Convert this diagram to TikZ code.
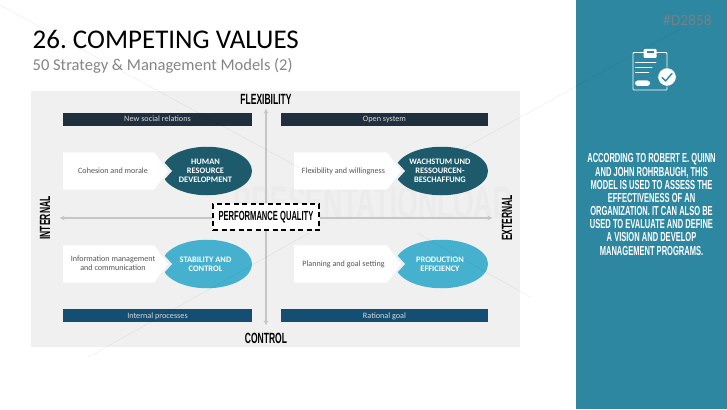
\documentclass[tikz,border=0pt]{standalone}
\usepackage{fontspec}
\setmainfont{Carlito}
\newfontfamily\bebas[FakeStretch=0.575]{Liberation Sans Bold}
\frenchspacing
\definecolor{panelgray}{HTML}{F0F0F0}
\definecolor{sideteal}{HTML}{2E87A0}
\definecolor{darkteal}{HTML}{1D5B6C}
\definecolor{lightteal}{HTML}{45B1CE}
\definecolor{navybar}{HTML}{1F2F3E}
\definecolor{bluebar}{HTML}{154E73}
\definecolor{bodygray}{HTML}{555555}
\definecolor{axisgray}{HTML}{C6C6C6}
\definecolor{codegray}{HTML}{768086}
\tikzset{
  x=1pt,y=-1pt,
  barbox/.style={draw=none,minimum height=13pt,inner sep=0pt,text height=5.6pt,text depth=.4pt,text=white!85!black,font=\fontsize{8.2}{10}\selectfont},
  valueblob/.style={ellipse,inner sep=0pt},
  valuetext/.style={inner sep=0pt,text=white,align=center,font=\bfseries\fontsize{8.4}{9.2}\selectfont},
  petlabel/.style={text=bodygray,align=center,font=\fontsize{8.1}{9.4}\selectfont},
  axislabel/.style={text=black,font=\bebas\fontsize{14.8}{15}\selectfont},
  axisline/.style={draw=axisgray,line width=1.2pt,-{Stealth[length=4.5pt,width=4.5pt]}},
  watermarkline/.style={draw=black,opacity=.07,line width=.5pt},
  iconline/.style={draw=white,line width=.9pt,line cap=round,line join=round},
}
\usetikzlibrary{shapes.geometric,arrows.meta}
\newcommand\cvrow[7]{%
  \node[valueblob,fill=#6,minimum width=#4pt,minimum height=48.5pt] (#1b) at (#3,#5) {};
  \fill[panelgray] (#3-#4/2-9,#5-21) -- (#3-#4/2+10,#5) -- (#3-#4/2-9,#5+21) -- cycle;
  \fill[white] (#2,#5-18.7) -- (#3-#4/2-8,#5-18.7) -- (#3-#4/2+6,#5) -- (#3-#4/2-8,#5+18.7) -- (#2,#5+18.7) -- cycle;
  \node[valuetext] (#1t) at (#3-1.5,#5) {#7};
}
\begin{document}
\begin{tikzpicture}
\useasboundingbox (0,0) rectangle (727,409);
\fill[white] (0,0) rectangle (727,409);
\fill[sideteal] (576,0) rectangle (727,409);
\fill[panelgray] (31,91) rectangle (520,347);
\draw[black!6,line width=3pt,rounded corners=4pt] (215,206) -- (215,188) -- (238,188) -- (238,206);
\node[anchor=center,text=black!8,font=\fontsize{46}{46}\bebas\selectfont] (wm) at (373,203) {PRESENTATIONLOAD};
\node[anchor=west,inner sep=0pt,font=\fontsize{27}{30}\selectfont] (title) at (32.5,39) {26. COMPETING VALUES};
\node[anchor=west,inner sep=0pt,text=black!48,font=\fontsize{16.5}{18}\selectfont] (subtitle) at (32.5,66) {50 Strategy \& Management Models (2)};
% bars
\node[barbox,fill=navybar,minimum width=189pt] (b1) at (157.5,119) {New social relations};
\node[barbox,fill=navybar,minimum width=207pt] (b2) at (384.5,119) {Open system};
\node[barbox,fill=bluebar,minimum width=189pt] (b3) at (157.5,315.5) {Internal processes};
\node[barbox,fill=bluebar,minimum width=207pt] (b4) at (384.5,315.5) {Rational goal};
% centre + axes
\node[draw=black,dash pattern=on 5pt off 3.5pt,line width=1.2pt,fill=white,minimum width=106pt,minimum height=26pt,inner sep=0pt,text=black,font=\bebas\fontsize{13.2}{14}\selectfont] (pq) at (266,217) {PERFORMANCE QUALITY};
\coordinate (axt) at (266,109);
\coordinate (axb) at (266,325);
\coordinate (axl) at (60,218);
\coordinate (axr) at (492,218);
\draw[axisline] (pq.north) -- (axt);
\draw[axisline] (pq.south) -- (axb);
\draw[axisline] (pq.west|-axl) -- (axl);
\draw[axisline] (pq.east|-axr) -- (axr);
\node[axislabel] (flex) at (266,99) {FLEXIBILITY};
\node[axislabel] (ctrl) at (266,338) {CONTROL};
\node[axislabel,rotate=90] (inte) at (45,218) {INTERNAL};
\node[axislabel,rotate=90] (exte) at (507,218) {EXTERNAL};
% quadrants
\cvrow{q1}{63}{207}{90}{171}{darkteal}{HUMAN\\RESOURCE\\DEVELOPMENT}
\cvrow{q2}{294}{441.5}{93}{171}{darkteal}{WACHSTUM UND\\RESSOURCEN-\\BESCHAFFUNG}
\cvrow{q3}{63}{207}{90}{264}{lightteal}{STABILITY AND\\CONTROL}
\cvrow{q4}{294}{441.5}{93}{264}{lightteal}{PRODUCTION\\EFFICIENCY}
\node[petlabel] (l1) at (113,171) {Cohesion and morale};
\node[petlabel] (l2) at (343.5,171) {Flexibility and willingness};
\node[petlabel] (l3) at (113,263.5) {Information management\\and communication};
\node[petlabel] (l4) at (343.5,264) {Planning and goal setting};
% side panel
\node[anchor=east,inner sep=0pt,text=codegray,font=\fontsize{15.5}{16}\selectfont] (code) at (712,20) {\#D2858};
\draw[iconline,rounded corners=1pt] (644,52.5) -- (633,52.5) -- (633,90) -- (667,90) -- (667,84);
\draw[iconline] (656,52.5) -- (666,52.5) -- (667,53.5) -- (667,68);
\fill[white,rounded corners=1pt] (643.5,49) rectangle (656.5,58);
\fill[sideteal] (646.5,51) rectangle (653.5,53.5);
\draw[iconline] (635.5,62) -- (656,62);
\draw[iconline] (635.5,67.5) -- (652,67.5);
\draw[iconline] (635.5,72.5) -- (649,72.5);
\fill[white,rounded corners=2.8pt] (635,80.5) rectangle (650,86);
\fill[white,draw=sideteal,line width=.8pt] (667,77) circle (9.3);
\draw[sideteal,line width=1.4pt,line cap=round,line join=round] (662,77.5) -- (665.5,81) -- (672,73.5);
\node[align=center,text=white,inner sep=0pt,font=\bebas\fontsize{13.1}{13.15}\selectfont] (body) at (651.5,204.5) {ACCORDING TO ROBERT E. QUINN\\AND JOHN ROHRBAUGH, THIS\\MODEL IS USED TO ASSESS THE\\EFFECTIVENESS OF AN\\ORGANIZATION. IT CAN ALSO BE\\USED TO EVALUATE AND DEFINE\\A VISION AND DEVELOP\\MANAGEMENT PROGRAMS.};
% watermark lines
\draw[watermarkline] (0,5) -- (300,168);
\draw[watermarkline] (87,358) -- (309,233);
\draw[watermarkline] (410,178) -- (680,29);
\draw[watermarkline] (417,233) -- (530,297);
\end{tikzpicture}
\end{document}
